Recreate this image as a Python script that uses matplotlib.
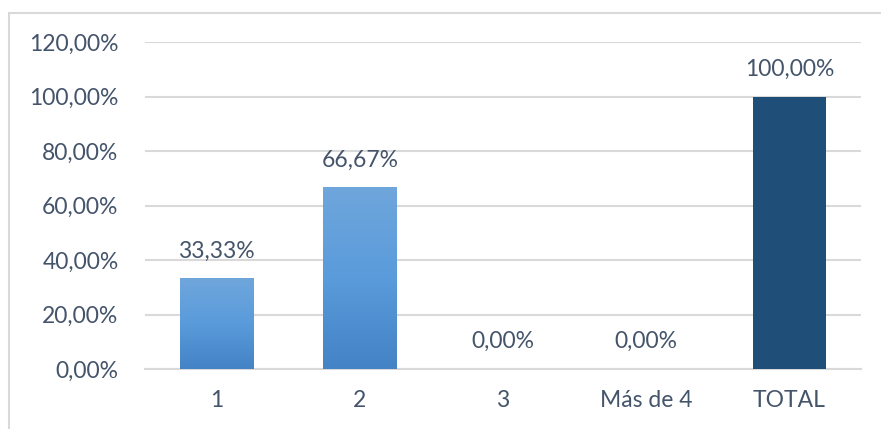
import numpy as np
import matplotlib.pyplot as plt
from matplotlib.patches import Rectangle
from matplotlib.colors import LinearSegmentedColormap

# Datos
categorias = ['1', '2', '3', 'Más de 4', 'TOTAL']
valores = [33.33, 66.67, 0.0, 0.0, 100.0]
etiquetas = ['33,33%', '66,67%', '0,00%', '0,00%', '100,00%']
ticks_y = [0, 20, 40, 60, 80, 100, 120]
ticks_y_txt = ['0,00%', '20,00%', '40,00%', '60,00%', '80,00%', '100,00%', '120,00%']

texto = '#44546A'
gris = '#D9D9D9'
plt.rcParams['font.family'] = ['Lato', 'DejaVu Sans']
fs = 16.5

fig = plt.figure(figsize=(8.81, 4.29), dpi=100)
# Rahmen des Diagramms
fig.patches.append(Rectangle((9 / 881, -0.1), 1.2, 1.1 - 13 / 429, transform=fig.transFigure,
                             fill=False, edgecolor=gris, linewidth=1.5))
ax = fig.add_axes([145 / 881, 1 - 369 / 429, (861 - 145) / 881, (369 - 42) / 429])

x = np.arange(len(categorias))
barras = ax.bar(x, valores, width=0.51, color='#1F4E79', zorder=3)

# Verlauf für die blauen Balken
cmap = LinearSegmentedColormap.from_list('azul', ['#4383C6', '#5A9BDB', '#6FA6DC'])
grad = np.linspace(0, 1, 256).reshape(-1, 1)
for i, b in enumerate(barras[:-1]):
    if valores[i] <= 0:
        continue
    b.set_facecolor('none')
    bx, by = b.get_x(), b.get_y()
    im = ax.imshow(grad, cmap=cmap, aspect='auto', origin='lower',
                   extent=[bx, bx + b.get_width(), by, by + b.get_height()], zorder=3)
    im.set_clip_path(b)

for i, b in enumerate(barras):
    ax.annotate(etiquetas[i], (b.get_x() + b.get_width() / 2, valores[i]),
                xytext=(0, 12), textcoords='offset points', ha='center', va='bottom',
                fontsize=fs, color=texto)

ax.set_xlim(-0.5, len(categorias) - 0.5)
ax.set_ylim(0, 120)
ax.set_yticks(ticks_y)
ax.set_yticklabels(ticks_y_txt)
ax.set_xticks(x)
ax.set_xticklabels(categorias)
ax.tick_params(length=0, labelsize=fs, labelcolor=texto)
ax.tick_params(axis='y', pad=19)
ax.tick_params(axis='x', pad=15)
ax.grid(axis='y', color=gris, linewidth=1.5, zorder=0)
ax.set_axisbelow(True)
for s in ['top', 'right', 'left']:
    ax.spines[s].set_visible(False)
ax.spines['bottom'].set_color(gris)
ax.spines['bottom'].set_linewidth(1.5)

fig.savefig('out.png', dpi=100)
